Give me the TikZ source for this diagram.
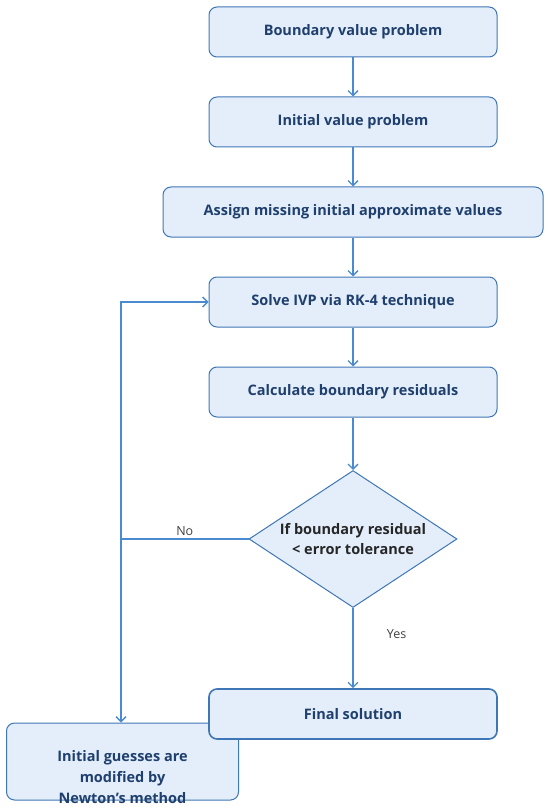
\documentclass[tikz,border=0pt]{standalone}
\usepackage{fontspec}
\setmainfont{Open Sans}
\usetikzlibrary{arrows.meta, shapes.geometric}
\definecolor{boxfill}{HTML}{E3EEFA}
\definecolor{boxline}{HTML}{3F76B5}
\definecolor{flowline}{HTML}{4A8AD0}
\definecolor{boxtext}{HTML}{1F3F6E}
\definecolor{lbltext}{HTML}{404040}

\begin{document}
\begin{tikzpicture}[
    x=1pt, y=-1pt,
    >={Straight Barb[length=5pt, width=10pt]},
    every node/.style={font=\fontsize{14.5}{17}\selectfont},
    stepbox/.style={rectangle, rounded corners=8pt, draw=boxline, fill=boxfill, line width=1pt,
                    minimum width=288pt, minimum height=50pt, text=boxtext,
                    font=\fontsize{14.5}{17}\selectfont\bfseries},
    widebox/.style={stepbox, minimum width=380pt},
    endbox/.style={stepbox, line width=1.6pt},
    guessbox/.style={stepbox, minimum width=232pt, minimum height=77pt},
    guesstxt/.style={align=center, text=boxtext, font=\fontsize{14.5}{21}\selectfont\bfseries},
    decide/.style={diamond, draw=boxline, fill=boxfill, line width=1pt, inner sep=0pt, aspect=1.52,
                   minimum width=208pt, minimum height=137pt, align=center,
                   font=\fontsize{14.5}{20}\selectfont\bfseries, text=black!85},
    flow/.style={->, draw=flowline, line width=1.3pt},
    branchlbl/.style={text=lbltext, font=\fontsize{12.5}{15}\selectfont}
]
\useasboundingbox (0,0) rectangle (550,810);
% x-positions
\def\xc{353}  \def\xl{121}  \def\xg{122.5}
% y-positions
\def\yA{32}   \def\yB{122}  \def\yC{212}  \def\yD{302}  \def\yE{392}
\def\yF{539}  \def\yG{714}  \def\yH{761.5}
% Main column
\node[stepbox]  (bvp)    at (\xc, \yA) {Boundary value problem};
\node[stepbox]  (ivp)    at (\xc, \yB) {Initial value problem};
\node[widebox]  (assign) at (\xc, \yC) {Assign missing initial approximate values};
\node[stepbox]  (solve)  at (\xc, \yD) {Solve IVP via RK-4 technique};
\node[stepbox]  (resid)  at (\xc, \yE) {Calculate boundary residuals};
\node[decide]   (check)  at (\xc, \yF) {If boundary residual\\< error tolerance};
% Correction box (text runs past its lower edge)
\node[guessbox] (guess)  at (\xg, \yH) {};
\node[guesstxt] (guessl) at (\xg, 777) {Initial guesses are\\modified by\\Newton's method};
\node[endbox]   (final)  at (\xc, \yG) {Final solution};
% Arrows down the column
\draw[flow] (bvp) -- (ivp);
\draw[flow] (ivp) -- (assign);
\draw[flow] (assign) -- (solve);
\draw[flow] (solve) -- (resid);
\draw[flow] (resid) -- (check);
\draw[flow] (check) -- node[branchlbl, right, pos=0.33, xshift=30pt] {Yes} (final);
% Loop back on the left
\coordinate (split) at (\xl, \yF);
\draw[flow, -] (check.west) -- node[branchlbl, above, yshift=-1pt] {No} (split);
\draw[flow] (split) |- (solve.west);
\draw[flow] (split) -- (split |- guess.north);
\end{tikzpicture}
\end{document}
